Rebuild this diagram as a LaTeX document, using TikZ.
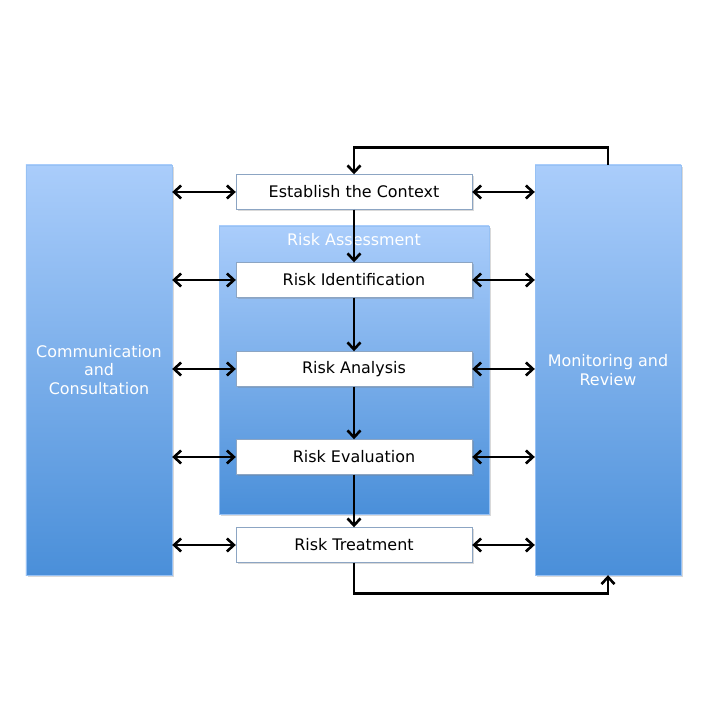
\documentclass[tikz,border=0pt]{standalone}
\usepackage{fontspec}
\setmainfont{DejaVu Sans}
\usetikzlibrary{arrows.meta,shadows}
\definecolor{boxtop}{RGB}{170,205,251}
\definecolor{boxbot}{RGB}{74,143,217}
\definecolor{stepline}{RGB}{140,165,195}

\begin{document}
\begin{tikzpicture}[x=1bp,y=1bp,
  bigbox/.style={rectangle,top color=boxtop,bottom color=boxbot,draw=boxtop!80!boxbot,
    text=white,align=center,font=\fontsize{16}{18.5}\selectfont,
    drop shadow={opacity=0.3,shadow xshift=2bp,shadow yshift=-2bp}},
  stepbox/.style={rectangle,fill=white,draw=stepline,minimum width=236bp,minimum height=35bp,
    font=\fontsize{16}{18.5}\selectfont,
    drop shadow={opacity=0.3,shadow xshift=2bp,shadow yshift=-2bp}},
  dbl/.style={line width=2.6bp,{Straight Barb[length=7bp,width=13bp]}-{Straight Barb[length=7bp,width=13bp]}},
  arr/.style={line width=2.6bp,-{Straight Barb[length=7bp,width=13bp]}}]
\useasboundingbox (0,0) rectangle (720,720);

% side boxes
\node[bigbox,minimum width=146bp,minimum height=410bp] (comm) at (99,350) {Communication\\and\\Consultation};
\node[bigbox,minimum width=146bp,minimum height=410bp] (mon) at (608,350) {Monitoring and\\Review};

% assessment frame
\node[bigbox,minimum width=270bp,minimum height=288bp] (assess) at (354,350) {};
\node[text=white,font=\fontsize{16}{18.5}\selectfont] (assesstitle) at (354,480) {Risk Assessment};

% process steps
\node[stepbox] (ctx) at (354,528) {Establish the Context};
\node[stepbox] (ident) at (354,440) {Risk Identification};
\node[stepbox] (anal) at (354,351) {Risk Analysis};
\node[stepbox] (eval) at (354,263) {Risk Evaluation};
\node[stepbox] (treat) at (354,175) {Risk Treatment};

% flow down
\draw[arr] (ctx) -- (ident);
\draw[arr] (ident) -- (anal);
\draw[arr] (anal) -- (eval);
\draw[arr] (eval) -- (treat);

% links to the side boxes
\foreach \s in {ctx,ident,anal,eval,treat}{
  \draw[dbl] (\s.west -| comm.east) -- (\s.west);
  \draw[dbl] (\s.east) -- (\s.east -| mon.west);
}

% feedback loops
\draw[arr] (mon.north) -- ++(0,17) -| (ctx.north);
\draw[arr] (treat.south) -- ++(0,-31) -| (mon.south);

\end{tikzpicture}
\end{document}
